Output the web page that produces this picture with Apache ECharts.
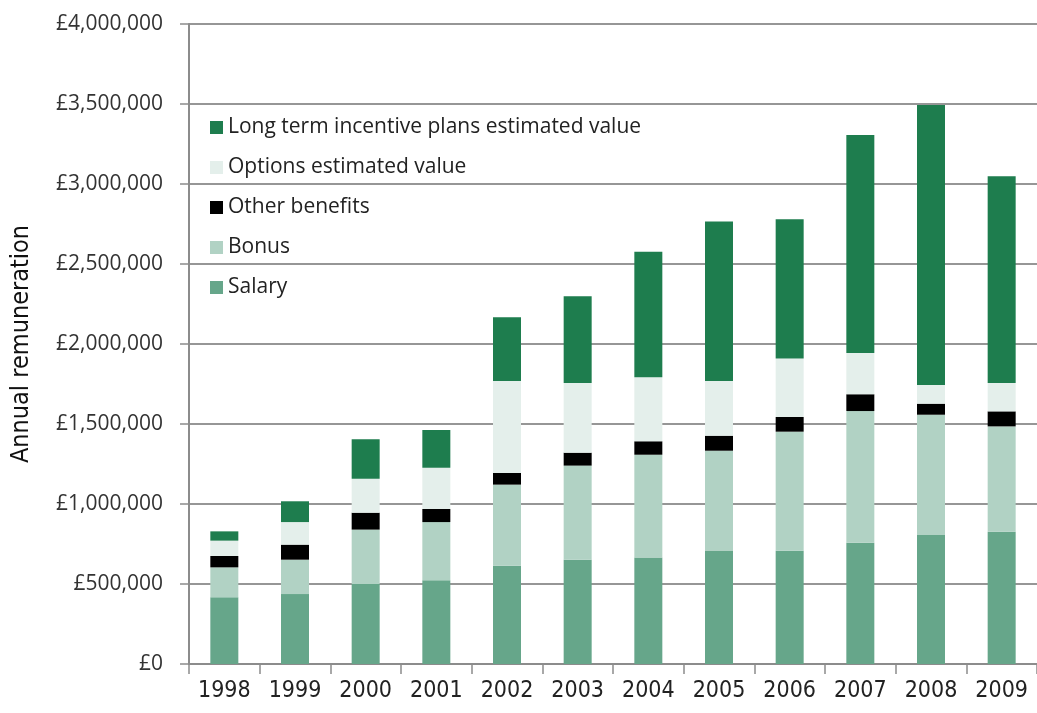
<!DOCTYPE html>
<html lang="en">
<head>
    <meta charset="UTF-8">
    <title>Annual remuneration</title>
    <script src="https://cdn.jsdelivr.net/npm/echarts@6/dist/echarts.min.js"></script>
    <style>
        html, body { margin: 0; padding: 0; background: #fff; }
        #chart-container { width: 1037px; height: 713px; }
    </style>
</head>
<body>
    <div id="chart-container"></div>
    <script>
        // data (GBP)
        const years = ['1998', '1999', '2000', '2001', '2002', '2003', '2004', '2005', '2006', '2007', '2008', '2009'];
        const salary = [417000, 437000, 500000, 523000, 614000, 652000, 665000, 710000, 708000, 758000, 806000, 827000];
        const bonus = [187000, 215000, 340000, 364000, 507000, 588000, 643000, 623000, 744000, 823000, 752000, 658000];
        const otherBenefits = [71000, 94000, 106000, 82000, 73000, 81000, 84000, 94000, 92000, 105000, 69000, 94000];
        const options = [96000, 141000, 212000, 258000, 575000, 435000, 400000, 342000, 366000, 258000, 117000, 177000];
        const ltip = [58000, 130000, 246000, 235000, 398000, 542000, 785000, 996000, 869000, 1362000, 1750000, 1292000];

        const chart = echarts.init(document.getElementById('chart-container'));

        const narrow = '"Liberation Sans Narrow", "DejaVu Sans Condensed", sans-serif';
        const wide = '"Open Sans", "Noto Sans", sans-serif';

        function bar(name, data, color) {
            return {
                name: name,
                type: 'bar',
                stack: 'total',
                data: data,
                barWidth: 28,
                itemStyle: { color: color }
            };
        }

        const option = {
            animation: false,
            grid: { left: 189, top: 24, width: 855, height: 640 },
            legend: {
                orient: 'vertical',
                left: 205,
                top: 112,
                itemWidth: 13,
                itemHeight: 13,
                itemGap: 19,
                icon: 'rect',
                data: ['Long term incentive plans estimated value', 'Options estimated value', 'Other benefits', 'Bonus', 'Salary'],
                textStyle: { fontFamily: wide, fontSize: 21, color: '#222', padding: [0, 0, 0, 0] }
            },
            xAxis: {
                type: 'category',
                data: years,
                axisLine: { lineStyle: { color: '#8c8c8c', width: 2 } },
                axisTick: { show: true, length: 10, lineStyle: { color: '#8c8c8c', width: 1.5 } },
                axisLabel: { fontFamily: narrow, fontSize: 23, color: '#222', margin: 16 }
            },
            yAxis: {
                type: 'value',
                min: 0,
                max: 4000000,
                interval: 500000,
                name: 'Annual remuneration',
                nameLocation: 'middle',
                nameGap: 155,
                nameTextStyle: { fontFamily: narrow, fontSize: 25, color: '#111' },
                axisLine: { show: true, lineStyle: { color: '#8c8c8c', width: 2 } },
                axisTick: { show: true, length: 9, lineStyle: { color: '#8c8c8c', width: 1.5 } },
                splitLine: { lineStyle: { color: '#969696', width: 2 } },
                axisLabel: {
                    fontFamily: wide,
                    fontSize: 21,
                    color: '#333',
                    margin: 26,
                    formatter: v => '£' + v.toLocaleString('en-GB')
                }
            },
            series: [
                bar('Salary', salary, '#66a68a'),
                bar('Bonus', bonus, '#b1d2c4'),
                bar('Other benefits', otherBenefits, '#000000'),
                bar('Options estimated value', options, '#e4efeb'),
                bar('Long term incentive plans estimated value', ltip, '#1e7d4e')
            ]
        };

        chart.setOption(option);
    </script>
</body>
</html>
